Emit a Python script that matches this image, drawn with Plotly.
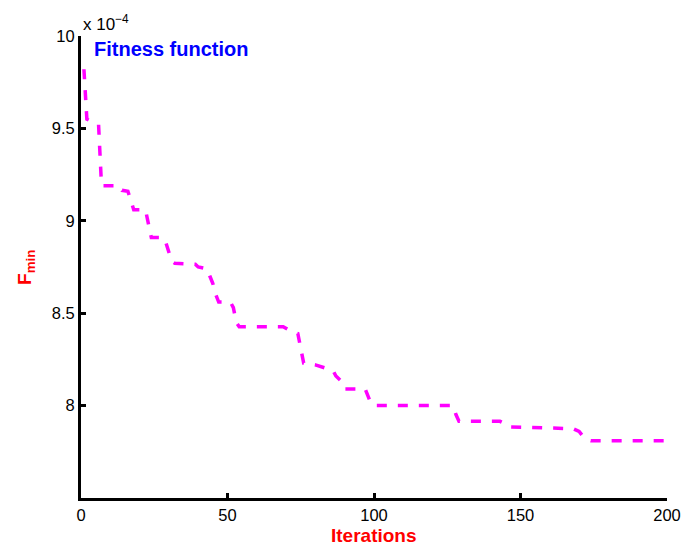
import numpy as np
import plotly.graph_objects as go

# Best fitness value per iteration (vertices of the convergence curve), in units of 1e-4
iterations = [1, 2, 6, 7, 13, 14, 16, 17, 18, 22, 24, 28, 29, 30, 31, 32, 39, 40, 43,
              44, 45, 46, 47, 51, 52, 53, 54, 69, 72, 74, 75, 76, 80, 84, 86, 87, 89,
              90, 97, 98, 99, 100, 127, 128, 129, 143, 145, 146, 160, 168, 170, 172,
              174, 200]
fmin_e4 = [9.82, 9.55, 9.52, 9.19, 9.19, 9.165, 9.16, 9.11, 9.06, 9.06, 8.91, 8.91,
           8.88, 8.83, 8.78, 8.77, 8.765, 8.75, 8.74, 8.70, 8.66, 8.60, 8.56, 8.56,
           8.53, 8.45, 8.427, 8.427, 8.40, 8.39, 8.31, 8.23, 8.22, 8.20, 8.19, 8.16,
           8.13, 8.09, 8.09, 8.05, 8.01, 8.00, 8.00, 7.95, 7.915, 7.915, 7.90, 7.885,
           7.878, 7.875, 7.86, 7.82, 7.81, 7.81]

x_ticks = [0, 50, 100, 150, 200]
y_ticks_e4 = [8, 8.5, 9, 9.5, 10]
y_tick_text = ["8", "8.5", "9", "9.5", "10"]

SCALE = 1e-4
y_vals = np.array(fmin_e4) * SCALE

FONT = "Liberation Sans, Arial, Helvetica, sans-serif"

fig = go.Figure()
fig.add_trace(go.Scatter(
    x=iterations, y=y_vals, mode="lines",
    line=dict(color="#FF00FF", width=3.5, dash="10px,11px"),
    showlegend=False, hoverinfo="skip",
))

axis_common = dict(
    showline=True, linecolor="black", linewidth=3,
    ticks="inside", ticklen=5, tickwidth=2.5, tickcolor="black",
    showgrid=False, zeroline=False, mirror=False,
    tickfont=dict(family=FONT, size=16.5, color="black"),
)

fig.update_layout(
    width=699, height=547,
    margin=dict(l=81, r=32, t=36, b=49),
    paper_bgcolor="white", plot_bgcolor="white",
    xaxis=dict(range=[0, 200], tickvals=x_ticks, **axis_common),
    yaxis=dict(range=[7.5 * SCALE, 10 * SCALE],
               tickvals=[v * SCALE for v in y_ticks_e4], ticktext=y_tick_text,
               **axis_common),
    annotations=[
        dict(text="<b>Fitness function</b>", xref="paper", yref="paper",
             x=0.019, y=0.972, xanchor="left", yanchor="middle", showarrow=False,
             font=dict(family=FONT, size=20, color="#0000FF")),
        dict(text="<b>Iterations</b>", xref="paper", yref="paper",
             x=0.5, y=-0.082, xanchor="center", yanchor="middle", showarrow=False,
             font=dict(family=FONT, size=19, color="#FF0000")),
        dict(text="<b>F<sub>min</sub></b>", xref="paper", yref="paper",
             x=-0.094, y=0.5, xanchor="center", yanchor="middle", showarrow=False,
             textangle=-90,
             font=dict(family=FONT, size=19, color="#FF0000")),
        dict(text="x 10<sup>\u22124</sup>", xref="paper", yref="paper",
             x=0.0, y=1.0, xanchor="left", yanchor="bottom", showarrow=False,
             font=dict(family=FONT, size=17, color="black")),
    ],
)

fig.write_html("out.html")
